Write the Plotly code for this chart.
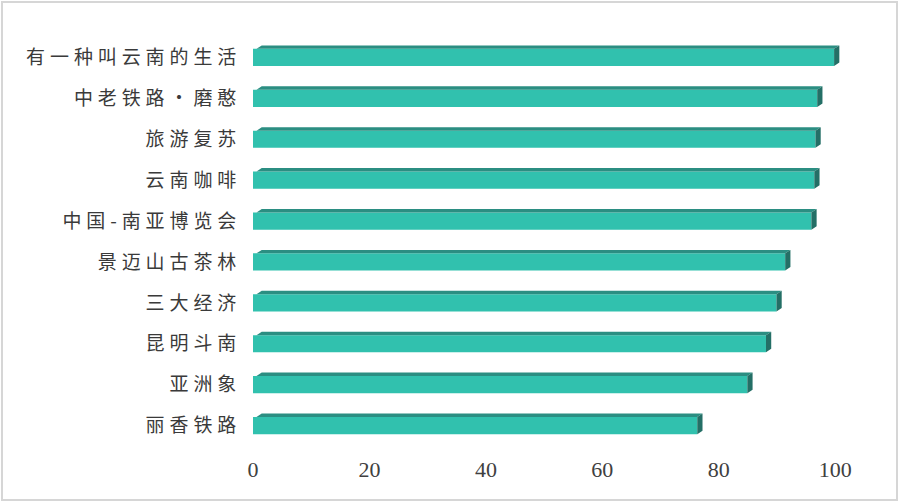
import plotly.graph_objects as go

categories = ["有一种叫云南的生活", "中老铁路·磨憨", "旅游复苏", "云南咖啡", "中国-南亚博览会",
              "景迈山古茶林", "三大经济", "昆明斗南", "亚洲象", "丽香铁路"]
values = [99.8, 96.9, 96.6, 96.4, 95.9, 91.4, 89.9, 88.1, 84.9, 76.3]
x_ticks = [0, 20, 40, 60, 80, 100]

FRONT = "#31c1ae"
TOP = "#2b8e82"
SIDE = "#246f66"

W = 900
H = 503
ML, MR, MT, MB = 253, 56, 37, 57
X_MAX = 101.5

bar_w = 0.42   # front face thickness (category units)
dx = 0.9       # depth in x (data units)
dy = 0.085     # depth in y (category units)

ypos = list(range(len(categories)))

fig = go.Figure()
fig.add_trace(go.Bar(
    x=values, y=ypos, orientation="h", width=bar_w,
    marker=dict(color=FRONT, line=dict(width=0)),
    hoverinfo="x+text", text=categories, textposition="none",
))

# 3D faces derived from the data
top_x, top_y, side_x, side_y = [], [], [], []
for y, v in zip(ypos, values):
    t = y - bar_w / 2   # top edge (axis reversed)
    b = y + bar_w / 2
    top_x += [0.6, v, v + dx, dx + 0.6, 0.6, None]
    top_y += [t, t, t - dy, t - dy, t, None]
    side_x += [v, v + dx, v + dx, v, v, None]
    side_y += [t, t - dy, b - dy, b, t, None]

fig.add_trace(go.Scatter(x=top_x, y=top_y, mode="lines", fill="toself",
                         fillcolor=TOP, line=dict(width=0, color=TOP),
                         hoverinfo="skip", cliponaxis=False))
fig.add_trace(go.Scatter(x=side_x, y=side_y, mode="lines", fill="toself",
                         fillcolor=SIDE, line=dict(width=0, color=SIDE),
                         hoverinfo="skip", cliponaxis=False))

pw = W - ML - MR
ph = H - MT - MB
def px_x(p):
    return (p - ML) / pw
def px_y(p):
    return (H - MB - p) / ph

fig.add_shape(type="rect", xref="paper", yref="paper",
              x0=px_x(2), x1=px_x(W - 3), y0=px_y(H - 3), y1=px_y(2),
              line=dict(color="#d6d6d6", width=2), layer="below")

fig.update_layout(
    width=W, height=H,
    margin=dict(l=ML, r=MR, t=MT, b=MB),
    paper_bgcolor="white", plot_bgcolor="white",
    showlegend=False,
    xaxis=dict(range=[0, X_MAX], tickvals=x_ticks, ticktext=[str(v) for v in x_ticks],
               showgrid=False, zeroline=False, showline=False,
               ticks="outside", ticklen=4, tickcolor="rgba(0,0,0,0)",
               tickfont=dict(family="Liberation Serif", size=22, color="#404040")),
    yaxis=dict(range=[9.5, -0.5], tickvals=ypos, ticktext=categories,
               showgrid=False, zeroline=False, showline=False,
               ticks="outside", ticklen=7, tickcolor="rgba(0,0,0,0)",
               tickfont=dict(family="Noto Sans CJK SC", size=19, color="#3a3a3a")),
)

post = (
    "document.body.style.margin='0';document.body.style.overflow='hidden';"
    "document.querySelectorAll('.ytick text').forEach(function(t){t.style.letterSpacing='4.9px';});"
)
fig.write_html("out.html", config={"displayModeBar": False}, post_script=post)
